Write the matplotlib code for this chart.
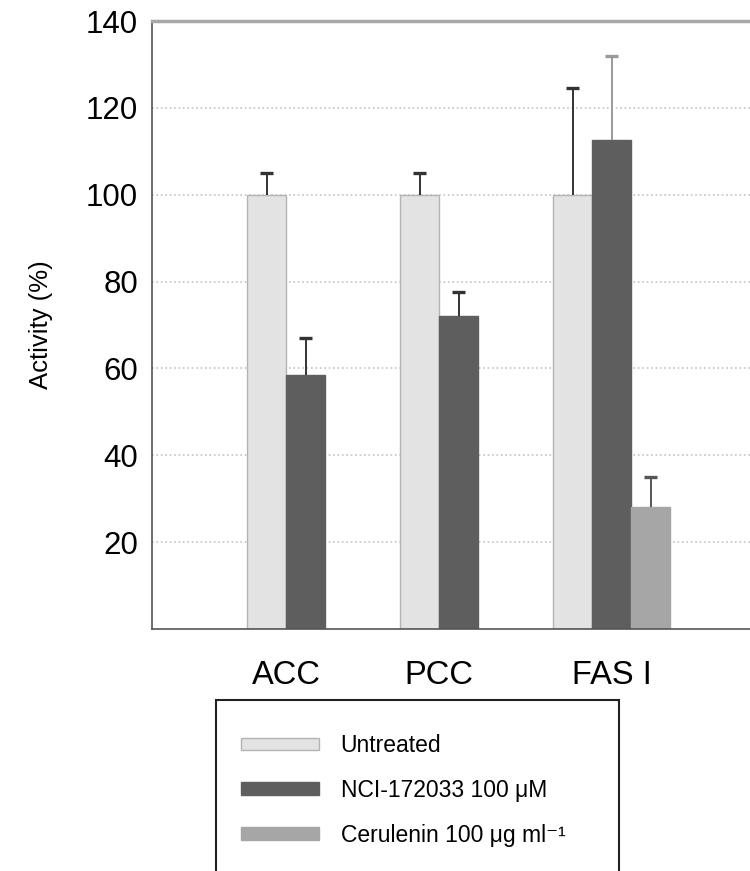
import numpy as np
import matplotlib
matplotlib.use('Agg')
import matplotlib.pyplot as plt
from matplotlib.patches import Patch, Rectangle

plt.rcParams['font.family'] = ['Liberation Sans', 'DejaVu Sans']

# data
categories = ['ACC', 'PCC', 'FAS I']
series = ['Untreated', 'NCI-172033 100 \u03bcM', 'Cerulenin 100 \u03bcg ml\u207b\u00b9']
values = [
    [100, 100, 100],        # untreated
    [58.5, 72, 112.5],      # NCI-172033
    [None, None, 28],       # cerulenin (FAS I only)
]
errors = [
    [5, 5, 24.5],
    [8.5, 5.5, 19.5],
    [None, None, 7],
]
yticks = [20, 40, 60, 80, 100, 120, 140]

# styling
face = ['#e3e3e3', '#5e5e5e', '#a6a6a6']
edge = ['#b4b4b4', '#5e5e5e', '#a6a6a6']
err_col = [['#333333', '#333333', '#333333'],
           ['#333333', '#333333', '#9a9a9a'],
           [None, None, '#555555']]
width = 0.255
offsets = [-0.5, 0.5, 1.5]
cap = 0.04

fig = plt.figure(figsize=(7.5, 8.71), dpi=100)
ax = fig.add_axes([152 / 750, 1 - 629 / 871, 613 / 750, 608 / 871])

x = np.arange(len(categories))
label_pos = []
for i, c in enumerate(x):
    used = [offsets[s] * width for s in range(len(series)) if values[s][i] is not None]
    label_pos.append(c + np.mean(used))

for s in range(len(series)):
    for i, c in enumerate(x):
        v = values[s][i]
        if v is None:
            continue
        xp = c + offsets[s] * width
        ax.bar(xp, v, width, color=face[s], edgecolor=edge[s], linewidth=1, zorder=2)
        top = v + errors[s][i]
        ax.vlines(xp, v, top, color=err_col[s][i], linewidth=1.4, zorder=3)
        ax.hlines(top, xp - cap, xp + cap, color=err_col[s][i], linewidth=2.4, zorder=3)

ax.set_xlim(-0.876, -0.876 + 613 / 153)
ax.set_ylim(0, 140)
ax.set_yticks(yticks)
ax.set_yticklabels([str(t) for t in yticks], fontsize=22.5)
ax.set_xticks(label_pos)
ax.set_xticklabels(categories, fontsize=23.5)
ax.tick_params(axis='y', length=0, pad=10)
ax.tick_params(axis='x', length=0, pad=22)
ax.yaxis.grid(True, linestyle=':', color='#c4c4c4', linewidth=1.2, zorder=0)
ax.set_axisbelow(True)
ax.set_ylabel('Activity (%)', fontsize=18.5, labelpad=24)

ax.spines['right'].set_visible(False)
ax.spines['top'].set_color('#a8a8a8')
ax.spines['top'].set_linewidth(2.5)
ax.spines['left'].set_color('#555555')
ax.spines['bottom'].set_color('#555555')
ax.spines['left'].set_linewidth(1.2)
ax.spines['bottom'].set_linewidth(1.2)

# legend box, open at the bottom of the figure
box = Rectangle((216 / 750, -0.05), (619 - 216) / 750, 0.05 + 1 - 700 / 871,
                transform=fig.transFigure, fill=False, edgecolor='#222222',
                linewidth=1.5)
fig.patches.append(box)

handles = [Patch(facecolor=face[s], edgecolor=edge[s]) for s in range(len(series))]
fig.legend(handles, series, loc='upper left', bbox_to_anchor=(241 / 750, 1 - 734 / 871),
           frameon=False, fontsize=16.5, handlelength=3.4, handleheight=0.45,
           handletextpad=0.95, labelspacing=0.95, borderpad=0, borderaxespad=0)

fig.savefig('out.png', dpi=100)
